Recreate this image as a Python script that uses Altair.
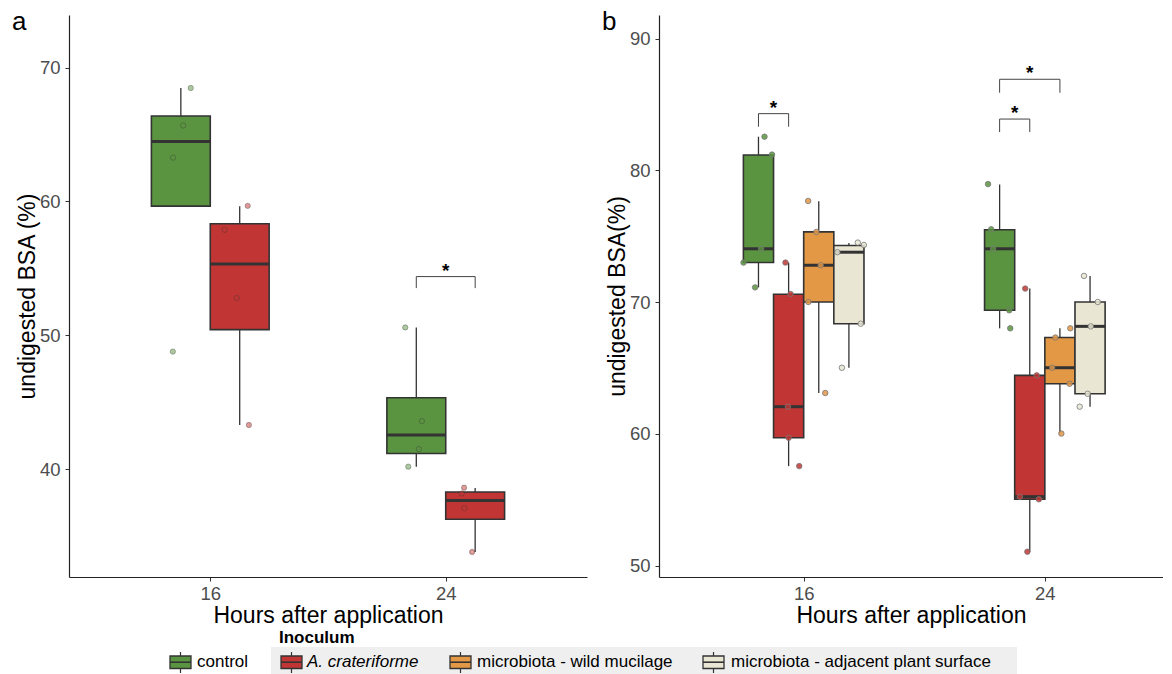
import altair as alt
import pandas as pd

FONT = "Liberation Sans"

hours = ["16", "24"]
groups = ["control", "A. crateriforme", "microbiota - wild mucilage", "microbiota - adjacent plant surface"]
colors = ["#5A9440", "#C13634", "#E39846", "#E9E6D4"]

# ---------------- panel a : box statistics ----------------
a_box_hour = ["16", "16", "24", "24"]
a_box_group = ["control", "A. crateriforme", "control", "A. crateriforme"]
a_box_lo = [59.65, 43.31, 40.20, 33.83]
a_box_q1 = [59.65, 50.43, 41.18, 36.27]
a_box_med = [64.47, 55.33, 42.57, 37.67]
a_box_q3 = [66.38, 58.33, 45.34, 38.31]
a_box_hi = [68.47, 59.65, 50.59, 38.60]

# panel a : individual points
a_pt_hour = ["16"] * 8 + ["24"] * 8
a_pt_group = (["control"] * 4 + ["A. crateriforme"] * 4) * 2
a_pt_value = [68.47, 65.67, 63.27, 48.79, 59.67, 57.88, 52.79, 43.31,
              50.59, 43.60, 41.51, 40.20, 38.63, 38.20, 37.09, 33.83]
a_pt_jitter = [0.042, 0.010, -0.033, -0.034, 0.034, -0.064, -0.013, 0.039,
               -0.047, 0.024, 0.011, -0.034, -0.047, -0.057, -0.046, -0.013]

# panel a : significance brackets
a_sig_hour = ["24"]
a_sig_from = ["control"]
a_sig_to = ["A. crateriforme"]
a_sig_top = [54.39]
a_sig_bottom = [53.53]

# ---------------- panel b : box statistics ----------------
b_box_hour = ["16"] * 4 + ["24"] * 4
b_box_group = groups * 2
b_box_lo = [71.12, 57.55, 63.10, 65.02, 68.01, 51.05, 60.02, 62.06]
b_box_q1 = [73.01, 59.70, 70.01, 68.36, 69.38, 55.03, 63.80, 63.04]
b_box_med = [74.05, 62.06, 72.80, 73.79, 74.05, 55.23, 65.02, 68.16]
b_box_q3 = [81.17, 70.60, 75.33, 74.30, 75.50, 64.44, 67.31, 70.01]
b_box_hi = [82.56, 73.00, 77.65, 74.49, 78.93, 71.03, 68.01, 71.99]

# panel b : individual points
b_pt_hour = ["16"] * 20 + ["24"] * 20
b_pt_group = sum([[g] * 5 for g in groups], []) * 2
b_pt_value = [82.56, 81.20, 74.05, 73.00, 71.12,
              73.00, 70.62, 62.06, 59.70, 57.55,
              77.68, 75.33, 72.80, 70.01, 63.10,
              74.52, 74.34, 73.79, 68.36, 65.02,
              78.96, 75.53, 74.05, 69.38, 68.01,
              71.03, 64.44, 55.23, 55.03, 51.05,
              68.01, 67.31, 65.02, 63.80, 60.02,
              71.99, 70.01, 68.16, 63.04, 62.06]
b_pt_jitter = [0.025, 0.056, 0.011, -0.062, -0.014,
               -0.013, 0.008, -0.003, 0.000, 0.044,
               -0.044, -0.010, 0.008, -0.043, 0.027,
               0.037, 0.062, -0.048, 0.049, -0.029,
               -0.048, -0.035, -0.027, 0.040, 0.044,
               -0.019, 0.029, -0.041, 0.038, -0.010,
               0.043, -0.019, -0.032, 0.040, 0.006,
               -0.025, 0.032, 0.003, -0.010, -0.043]

# panel b : significance brackets
b_sig_hour = ["16", "24", "24"]
b_sig_from = ["control", "control", "control"]
b_sig_to = ["A. crateriforme", "A. crateriforme", "microbiota - wild mucilage"]
b_sig_top = [84.31, 83.90, 86.92]
b_sig_bottom = [83.32, 82.91, 85.90]

color_scale = alt.Scale(domain=groups, range=colors)


def dodge(order, half):
    n = len(order)
    return {g: (i - (n - 1) / 2) * 2 * half for i, g in enumerate(order)}


def make_panel(order, half, box, pts, sig, xmax, ydom, yvals, ytitle, letter,
               w, h, pt_style):
    offs = dodge(order, half)
    hr, grp, lo, q1, med, q3, hi = box
    bdf = pd.DataFrame(dict(hour=hr, group=grp, lo=lo, q1=q1, med=med, q3=q3, hi=hi))
    bdf["xc"] = [hours.index(a) + 1 + offs[g] for a, g in zip(hr, grp)]
    bdf["xl"] = bdf["xc"] - half
    bdf["xr"] = bdf["xc"] + half

    phr, pgrp, pval, pjit = pts
    pdf = pd.DataFrame(dict(hour=phr, group=pgrp, value=pval))
    pdf["x"] = [hours.index(a) + 1 + offs[g] + j for a, g, j in zip(phr, pgrp, pjit)]

    shr, sfrom, sto, stop, sbot = sig
    rows, stars = [], []
    for k, (a, f, t, yt, yb) in enumerate(zip(shr, sfrom, sto, stop, sbot)):
        x1 = hours.index(a) + 1 + offs[f]
        x2 = hours.index(a) + 1 + offs[t]
        for o, (xx, yy) in enumerate([(x1, yb), (x1, yt), (x2, yt), (x2, yb)]):
            rows.append(dict(id=k, o=o, x=xx, y=yy))
        stars.append(dict(x=(x1 + x2) / 2, y=yt))
    sdf = pd.DataFrame(rows)
    stdf = pd.DataFrame(stars)

    xsc = alt.Scale(domain=[0.4, xmax], nice=False, zero=False)
    ysc = alt.Scale(domain=ydom, nice=False, zero=False)
    label_expr = "[" + ",".join("'%s'" % x for x in hours) + "][datum.value - 1]"
    xax = alt.Axis(values=[1, 2], labelExpr=label_expr, title="Hours after application",
                   grid=False, labelPadding=3, titlePadding=2)
    yax = alt.Axis(values=yvals, title=ytitle, grid=False, labelPadding=5, titlePadding=0)

    whisk = alt.Chart(bdf).mark_rule(color="#333333", strokeWidth=1.3).encode(
        x=alt.X("xc:Q", scale=xsc, axis=xax),
        y=alt.Y("lo:Q", scale=ysc, axis=yax),
        y2="hi:Q",
    )
    rect = alt.Chart(bdf).mark_rect(stroke="#333333", strokeWidth=1.6).encode(
        x="xl:Q", x2="xr:Q", y="q1:Q", y2="q3:Q",
        fill=alt.Fill("group:N", scale=color_scale, legend=None),
    )
    medl = alt.Chart(bdf).mark_rule(color="#333333", strokeWidth=3).encode(
        x="xl:Q", x2="xr:Q", y="med:Q"
    )
    points = alt.Chart(pdf).mark_circle(**pt_style).encode(
        x="x:Q", y="value:Q",
        fill=alt.Fill("group:N", scale=color_scale, legend=None),
    )
    brack = alt.Chart(sdf).mark_line(color="#444444", strokeWidth=1).encode(
        x="x:Q", y="y:Q", detail="id:N", order="o:Q"
    )
    star = alt.Chart(stdf).mark_text(text="*", fontSize=19, fontWeight="bold", font=FONT,
                                     baseline="alphabetic", color="black").encode(
        x="x:Q", y="y:Q"
    )
    lett = alt.Chart(pd.DataFrame({"t": [letter]})).mark_text(
        align="left", baseline="alphabetic", fontSize=26, font=FONT, color="black"
    ).encode(x=alt.value(-57), y=alt.value(15), text="t:N")

    return alt.layer(whisk, rect, medl, points, brack, star, lett).properties(width=w, height=h)


panel_a = make_panel(
    groups[:2], 0.125,
    (a_box_hour, a_box_group, a_box_lo, a_box_q1, a_box_med, a_box_q3, a_box_hi),
    (a_pt_hour, a_pt_group, a_pt_value, a_pt_jitter),
    (a_sig_hour, a_sig_from, a_sig_to, a_sig_top, a_sig_bottom),
    2.6, [31.96, 73.92], [40, 50, 60, 70], "undigested BSA (%)", "a", 518, 562,
    dict(size=28, fillOpacity=0.5, stroke="#333333", strokeOpacity=0.35, strokeWidth=1),
)

panel_b = make_panel(
    groups, 0.0625,
    (b_box_hour, b_box_group, b_box_lo, b_box_q1, b_box_med, b_box_q3, b_box_hi),
    (b_pt_hour, b_pt_group, b_pt_value, b_pt_jitter),
    (b_sig_hour, b_sig_from, b_sig_to, b_sig_top, b_sig_bottom),
    2.49, [49.13, 91.8], [50, 60, 70, 80, 90], "undigested BSA(%)", "b", 504, 562,
    dict(size=30, fillOpacity=0.85, stroke="#777777", strokeOpacity=0.8, strokeWidth=1),
)

# ---------------- custom legend ----------------
leg_key_left = [101, 212, 381, 634]
leg_label_left = [128, 238, 408, 662]
ldf = pd.DataFrame(dict(group=groups, kx=leg_key_left, lx=leg_label_left))
ldf["kx2"] = ldf["kx"] + 21
ldf["kc"] = ldf["kx"] + 10.5
one = pd.DataFrame({"a": [0]})

leg_bg = alt.Chart(one).mark_rect(color="#EFEFEF").encode(
    x=alt.value(202), x2=alt.value(948), y=alt.value(20), y2=alt.value(48)
)
leg_title = alt.Chart(pd.DataFrame({"t": ["Inoculum"]})).mark_text(
    align="left", baseline="middle", fontSize=17, fontWeight="bold", font=FONT, color="black"
).encode(x=alt.value(210), y=alt.value(11), text="t:N")
leg_whisk = alt.Chart(ldf).mark_rule(color="#333333", strokeWidth=1.2).encode(
    x=alt.X("kc:Q", scale=None), y=alt.value(25), y2=alt.value(46)
)
leg_box = alt.Chart(ldf).mark_rect(stroke="#333333", strokeWidth=1.3).encode(
    x=alt.X("kx:Q", scale=None), x2="kx2:Q", y=alt.value(29), y2=alt.value(41.5),
    fill=alt.Fill("group:N", scale=color_scale, legend=None),
)
leg_med = alt.Chart(ldf).mark_rule(color="#333333", strokeWidth=1.6).encode(
    x=alt.X("kx:Q", scale=None), x2="kx2:Q", y=alt.value(35.2)
)
leg_text = alt.Chart(ldf).transform_filter(
    alt.datum.group != groups[1]
).mark_text(align="left", baseline="middle", fontSize=17, font=FONT, color="black").encode(
    x=alt.X("lx:Q", scale=None), y=alt.value(35), text="group:N"
)
leg_text_it = alt.Chart(ldf).transform_filter(
    alt.datum.group == groups[1]
).mark_text(align="left", baseline="middle", fontSize=17, font=FONT, fontStyle="italic",
            color="black").encode(
    x=alt.X("lx:Q", scale=None), y=alt.value(35), text="group:N"
)
legend = alt.layer(leg_bg, leg_title, leg_whisk, leg_box, leg_med, leg_text, leg_text_it).properties(
    width=518, height=40
)

chart = alt.concat(
    panel_a, panel_b, legend, columns=2, spacing={"row": 50, "column": 72}, bounds="flush"
).properties(
    padding={"left": 4, "top": 1, "right": 0, "bottom": 0}
).configure_view(stroke=None).configure_axis(
    domainColor="#222222", domainWidth=1.2, tickColor="#333333", tickSize=4, tickWidth=1,
    labelColor="#4D4D4D", labelFontSize=18.5, labelFont=FONT,
    titleFont=FONT, titleFontSize=23, titleFontWeight="normal", titleColor="black",
    grid=False,
)

chart.save("out.html", embed_options={"renderer": "svg", "actions": False})
